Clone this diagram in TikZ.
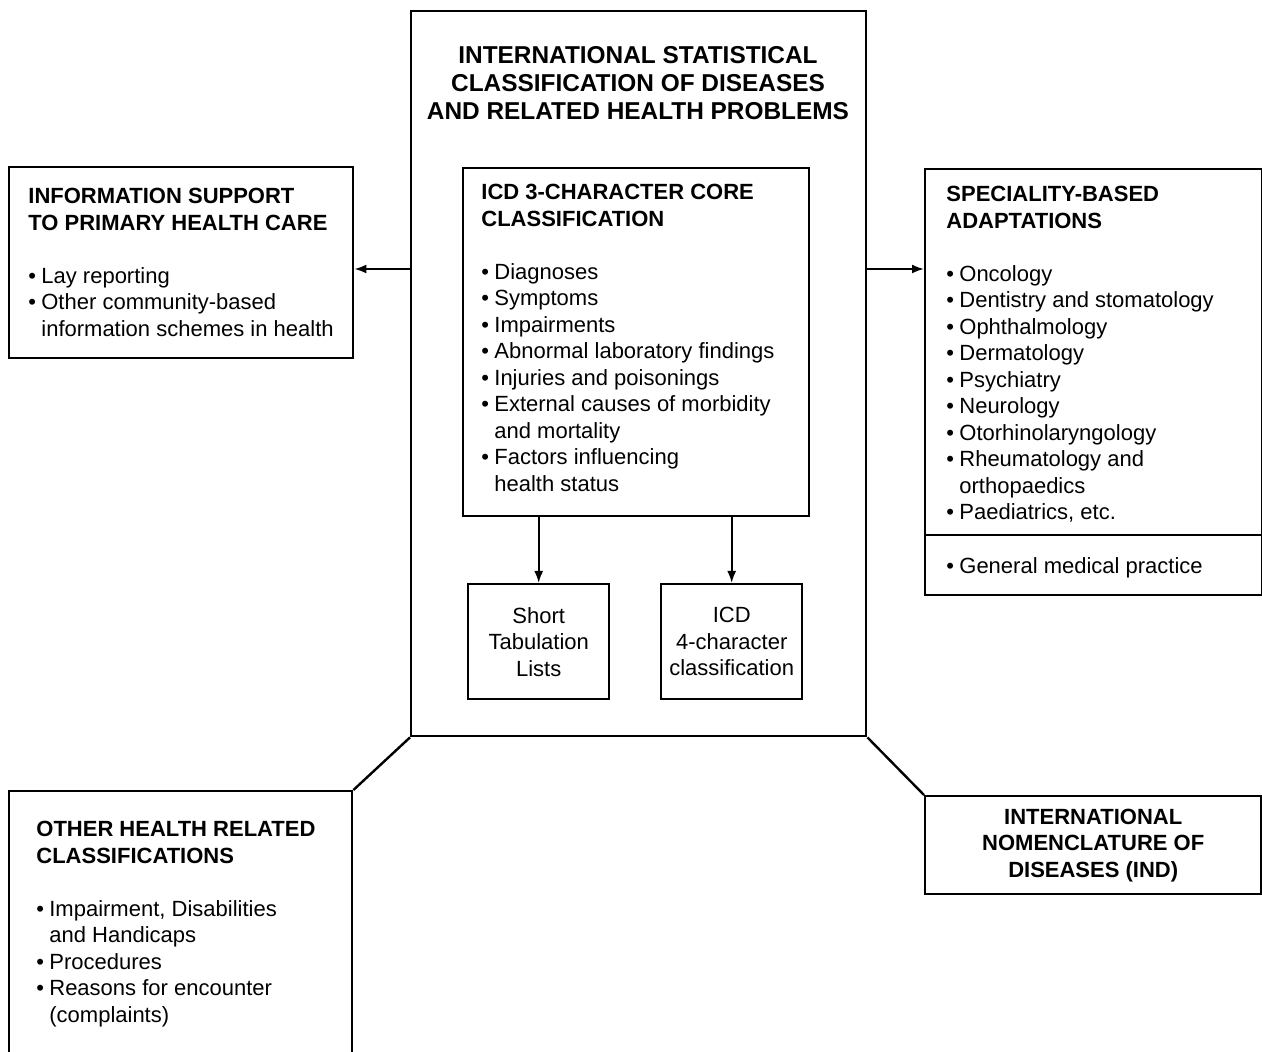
\documentclass[tikz,border=0pt]{standalone}
\usepackage{fontspec}
\setmainfont{Liberation Sans}
\usetikzlibrary{shapes,arrows,arrows.meta,positioning}
\tikzstyle{box} = [rectangle, draw=black, line width=1.2pt, inner sep=0pt, anchor=north west]
\tikzstyle{arrow} = [line width=1pt,-{Latex[length=6pt,width=4.5pt]}]
\tikzstyle{txt} = [anchor=north west, inner sep=0pt, align=left, font=\fontsize{11}{13.25}\selectfont]
\tikzstyle{ctxt} = [align=center, font=\fontsize{11}{13.25}\selectfont]
\newcommand{\bitem}{\makebox[6.5pt][l]{\textbullet}}
\newcommand{\bcont}{\hspace*{6.5pt}}

\begin{document}
\begin{tikzpicture}[x=0.5pt, y=-0.5pt]
    \useasboundingbox (0,0) rectangle (1262,1052);

    % ICD frame
    \node (1) [box, minimum width=227.5pt, minimum height=362.5pt] at (410,10) {};
    \node (T) [anchor=north, inner sep=0pt, align=center, font=\fontsize{12.2}{14}\selectfont\bfseries] at (638,46) {INTERNATIONAL STATISTICAL\\CLASSIFICATION OF DISEASES\\AND RELATED HEALTH PROBLEMS};

    % core classification
    \node (3) [box, minimum width=173pt, minimum height=174pt] at (462,167) {};
    \node (3t) [txt] at (481,184) {\textbf{ICD 3-CHARACTER CORE}\\\textbf{CLASSIFICATION}\\[13.25pt]
        \bitem Diagnoses\\
        \bitem Symptoms\\
        \bitem Impairments\\
        \bitem Abnormal laboratory findings\\
        \bitem Injuries and poisonings\\
        \bitem External causes of morbidity\\
        \bcont and mortality\\
        \bitem Factors influencing\\
        \bcont health status};

    \node (4) [box, ctxt, minimum width=70.5pt, minimum height=57.5pt] at (467,583) {Short\\Tabulation\\Lists};
    \node (5) [box, ctxt, minimum width=70.5pt, minimum height=57.5pt] at (660,583) {ICD\\4-character\\classification};
    \draw[arrow] (3.south -| 4.north) -- (4.north);
    \draw[arrow] (3.south -| 5.north) -- (5.north);

    % primary health care
    \node (2) [box, minimum width=172pt, minimum height=95.5pt] at (8,166) {};
    \node (2t) [txt] at (28,188) {\textbf{INFORMATION SUPPORT}\\\textbf{TO PRIMARY HEALTH CARE}\\[13.25pt]
        \bitem Lay reporting\\
        \bitem Other community-based\\
        \bcont information schemes in health};
    \draw[arrow] (1.west |- 0,269) -- (2.east |- 0,269);

    % speciality-based adaptations
    \node (6) [box, minimum width=168.5pt, minimum height=213pt] at (924,168) {};
    \draw[line width=1.2pt] (6.west |- 0,535) -- (6.east |- 0,535);
    \node (6t) [txt] at (946,186) {\textbf{SPECIALITY-BASED}\\\textbf{ADAPTATIONS}\\[13.25pt]
        \bitem Oncology\\
        \bitem Dentistry and stomatology\\
        \bitem Ophthalmology\\
        \bitem Dermatology\\
        \bitem Psychiatry\\
        \bitem Neurology\\
        \bitem Otorhinolaryngology\\
        \bitem Rheumatology and\\
        \bcont orthopaedics\\
        \bitem Paediatrics, etc.};
    \node (6b) [txt] at (946,557) {\bitem General medical practice};
    \draw[arrow] (1.east |- 0,269) -- (6.west |- 0,269);

    % other classifications
    \node (7) [box, minimum width=171.5pt, minimum height=145pt] at (8,790) {};
    \node (7t) [txt] at (36,821) {\textbf{OTHER HEALTH RELATED}\\\textbf{CLASSIFICATIONS}\\[13.25pt]
        \bitem Impairment, Disabilities\\
        \bcont and Handicaps\\
        \bitem Procedures\\
        \bitem Reasons for encounter\\
        \bcont (complaints)};
    \draw[line width=1.2pt] (1.south west) -- (7.north east);

    % nomenclature
    \node (8) [box, ctxt, font=\fontsize{11}{13.25}\selectfont\bfseries, minimum width=168pt, minimum height=49pt] at (924,795) {INTERNATIONAL\\NOMENCLATURE OF\\DISEASES (IND)};
    \draw[line width=1.2pt] (1.south east) -- (8.north west);

\end{tikzpicture}
\end{document}
